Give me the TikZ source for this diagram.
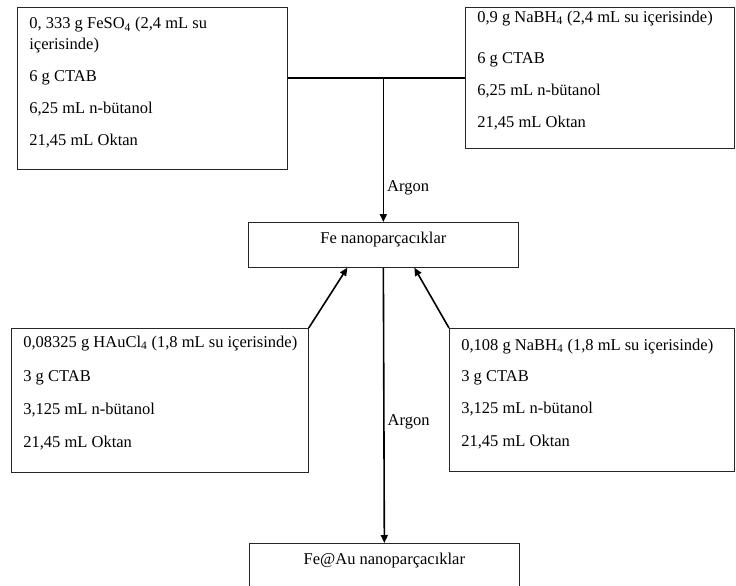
\documentclass[tikz,border=0pt]{standalone}
\usepackage{fontspec}
\setmainfont{Liberation Serif}
\usetikzlibrary{arrows.meta}
\newcommand{\mixtext}[4]{\parbox[t][#2][t]{#1}{\raggedright\leftskip=12pt\vspace*{#3}#4}}
\tikzset{
  mixbox/.style={draw=black!85, line width=0.7pt, inner sep=0pt, anchor=north west},
  prodbox/.style={draw=black!85, line width=0.7pt, anchor=north west, inner sep=0pt,
    minimum width=270pt, minimum height=45pt, text height=11pt, text depth=14pt},
  flow/.style={line width=1.6pt},
  flowarrow/.style={flow, -{Triangle[length=8pt, width=7pt]}}
}
\begin{document}
\begin{tikzpicture}[x=1pt, y=-1pt, font=\fontsize{16.5}{21}\selectfont]
  \useasboundingbox (0,0) rectangle (736,586);

  \node[mixbox] (feso) at (17,7) {\mixtext{270pt}{162pt}{10pt}{0, 333 g FeSO\textsubscript{4} (2,4 mL su\\ içerisinde)\\[11pt] 6 g CTAB\\[11pt] 6,25 mL n-bütanol\\[11pt] 21,45 mL Oktan}};
  \node[mixbox] (nabh) at (465,7) {\mixtext{269pt}{141pt}{3.5pt}{0,9 g NaBH\textsubscript{4} (2,4 mL su içerisinde)\\[20pt] 6 g CTAB\\[11pt] 6,25 mL n-bütanol\\[11pt] 21,45 mL Oktan}};
  \node[prodbox] (fe) at (248,222) {Fe nanoparçacıklar};
  \node[mixbox] (hau) at (11,328) {\mixtext{297pt}{144pt}{7.5pt}{0,08325 g HAuCl\textsubscript{4} (1,8 mL su içerisinde)\\[13pt] 3 g CTAB\\[12pt] 3,125 mL n-bütanol\\[12pt] 21,45 mL Oktan}};
  \node[mixbox] (nabhb) at (449,328) {\mixtext{285pt}{143pt}{10.5pt}{0,108 g NaBH\textsubscript{4} (1,8 mL su içerisinde)\\[10pt] 3 g CTAB\\[11pt] 3,125 mL n-bütanol\\[12pt] 21,45 mL Oktan}};
  \node[prodbox] (feau) at (249,543) {Fe@Au nanoparçacıklar};

  \draw[flow] (feso.east |- nabh.west) -- (nabh.west); %% feso--nabh
  \draw[flowarrow] (fe.north |- nabh.west) -- node[pos=0.76, right, inner xsep=3pt] (argtop) {Argon} (fe.north); %% ->fe
  \draw[flowarrow] (hau.north east) -- ([xshift=-36pt]fe.south); %% hau->fe
  \draw[flowarrow] (nabhb.north west) -- ([xshift=31pt]fe.south); %% nabhb->fe
  \draw[flowarrow] (fe.south) -- node[pos=0.56, right, inner xsep=3pt] (argbot) {Argon} (feau.north); %% fe->feau
\end{tikzpicture}
\end{document}
